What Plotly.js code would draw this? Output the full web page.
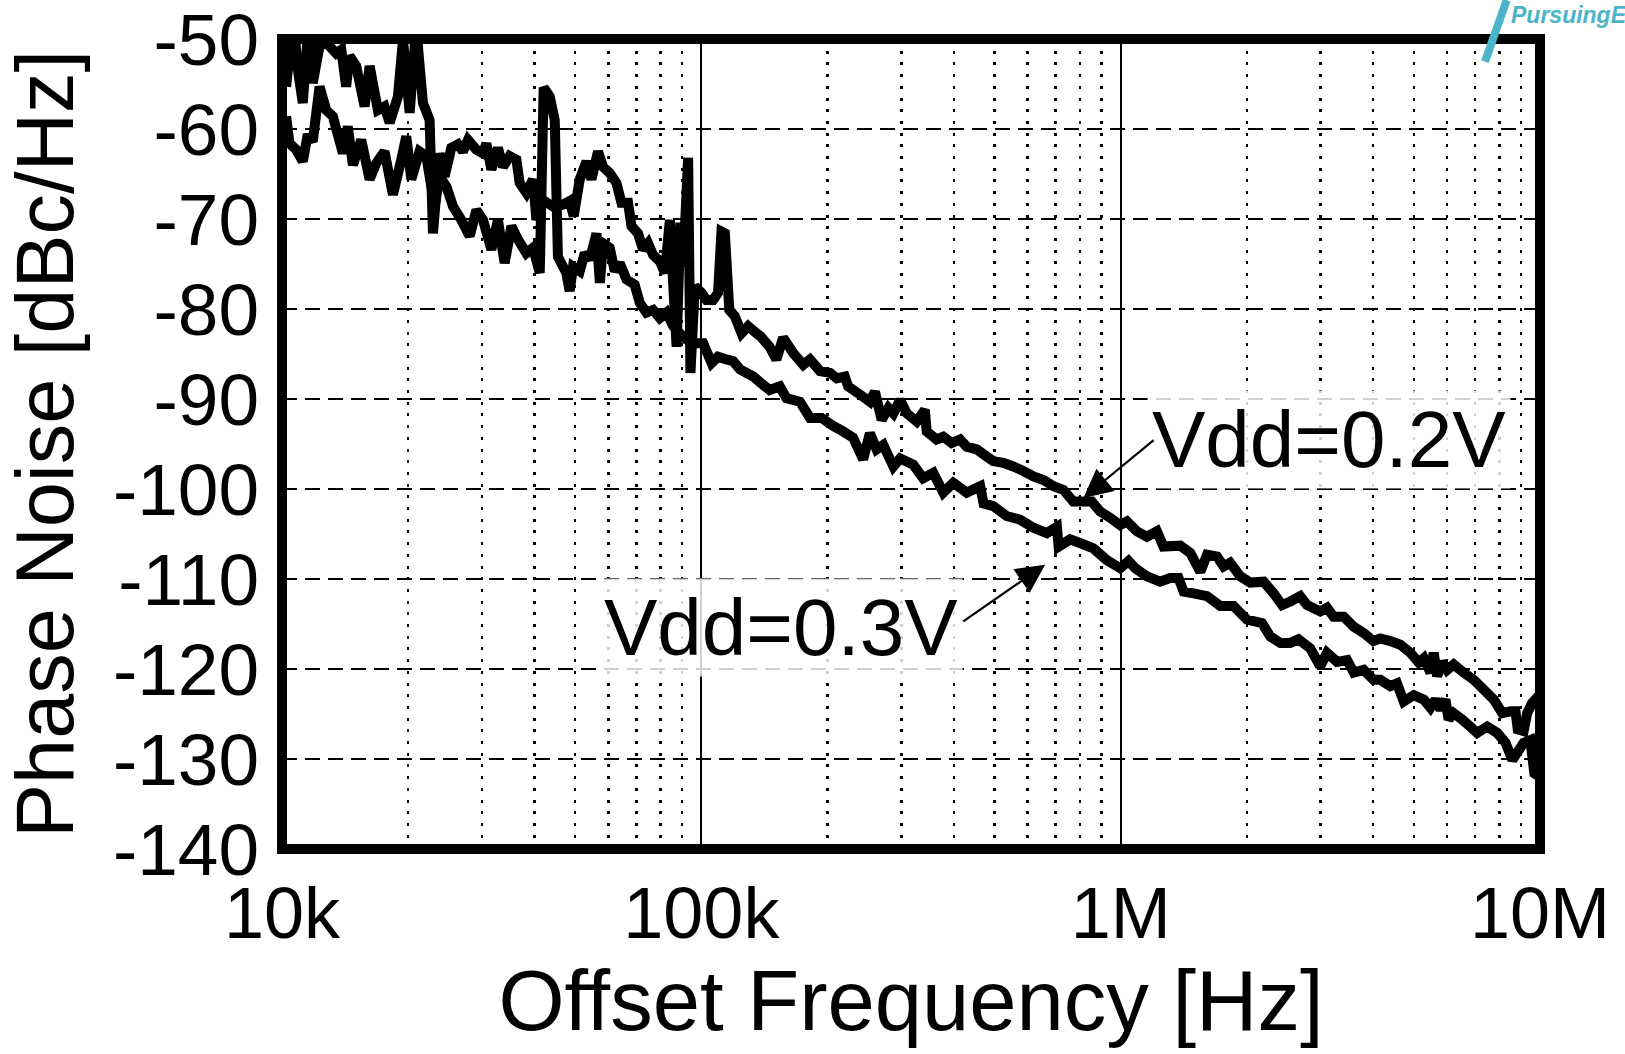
<!DOCTYPE html>
<html>
<head>
<meta charset="utf-8">
<script src="https://cdn.plot.ly/plotly-3.0.1.min.js"></script>
<style>
html,body{margin:0;padding:0;background:#ffffff;}
#chart{width:1625px;height:1054px;}
</style>
</head>
<body>
<div id="chart"></div>
<script>
// Offset frequency in kHz, phase noise in dBc/Hz
const freq02 = [10.23,10.42,10.65,10.91,11.21,11.59,11.84,12.29,12.75,13.47,13.85,14.22,14.49,15.03,15.74,16.18,16.93,17.56,18.06,18.90,19.43,20.16,20.89,21.68,22.49,22.91,23.76,24.42,25.34,26.28,27.01,27.77,29.08,30.15,30.72,31.57,32.73,33.65,34.91,36.22,36.88,38.26,39.68,40.43,41.93,44.29,46.77,48.53,49.62,51.29,53.21,54.70,56.71,58.30,60.47,62.74,64.49,66.88,68.14,70.63,72.61,74.64,76.74,79.62,81.85,84.14,85.90,87.30,89.13,90.49,93.01,94.19,96.49,100.1,102.9,106.7,109.6,111.7,113.8,116.6,120.2,124.7,129.3,135.4,138.5,145.5,151.0,156.7,165.6,175.0,181.6,191.9,202.7,210.4,219.8,223.9,238.8,252.3,259.4,269.2,279.3,287.1,297.9,309.0,326.3,341.2,344.7,363.9,377.6,395.4,414.0,429.5,453.9,479.7,496.6,524.8,554.6,586.1,619.4,654.6,691.8,730.5,770.9,799.8,853.1,893.3,944.1,997,1035,1093,1155,1220,1265,1387,1466,1549,1607,1697,1760,1824,1928,2037,2193,2317,2427,2539,2679,2782,2992,3105,3221,3404,3597,3797,4009,4159,4395,4645,4909,5140,5284,5479,5579,5685,5843,6005,6223,6577,6950,7345,7762,8128,8503,8740,8851,9141,9322,9572,9750,10000];
const pn02 = [-55.3,-51.6,-47.9,-53.4,-57.1,-47.9,-54.9,-50.8,-50.4,-51.6,-51.2,-55.3,-51.9,-53.0,-57.5,-53.0,-57.9,-57.5,-59.3,-56.4,-50.1,-58.2,-48.6,-57.1,-59.0,-71.6,-62.7,-65.3,-62.1,-61.7,-62.5,-61.2,-62.3,-62.7,-61.6,-64.5,-62.1,-64.2,-63.0,-63.4,-66.0,-67.1,-65.6,-70.1,-67.9,-68.6,-68.4,-68.0,-69.7,-65.6,-63.6,-65.6,-62.5,-64.2,-64.9,-66.0,-68.2,-68.2,-70.8,-71.6,-73.4,-72.7,-74.0,-74.7,-76.0,-70.1,-78.2,-84.2,-70.4,-75.3,-63.2,-87.1,-77.5,-78.2,-79.0,-79.0,-78.2,-71.4,-71.6,-80.1,-80.8,-82.7,-81.9,-82.7,-83.05,-84.2,-85.6,-83.2,-84.9,-86.2,-85.6,-86.9,-87.1,-87.7,-87.5,-88.6,-89.5,-90.3,-89.2,-92.3,-91.0,-91.6,-90.1,-91.6,-92.5,-91.2,-93.6,-94.5,-94.2,-94.9,-94.5,-95.3,-95.6,-96.4,-96.9,-97.1,-97.5,-98.0,-98.6,-99.0,-99.7,-100.1,-101.4,-101.4,-101.4,-102.5,-103.2,-104.0,-103.6,-104.7,-105.3,-104.7,-106.4,-106.3,-107.1,-109.2,-107.3,-107.5,-108.6,-108.2,-109.7,-110.4,-110.3,-111.6,-112.9,-112.5,-111.9,-112.9,-113.6,-113.2,-114.2,-114.2,-115.3,-116.0,-116.9,-116.6,-116.9,-117.3,-118.2,-119.3,-118.8,-120.4,-118.2,-120.8,-119.2,-120.1,-119.5,-120.4,-121.2,-122.3,-123.4,-124.9,-124.7,-124.7,-126.7,-126.9,-124.9,-123.8,-123.4,-124.0];
const freq03 = [10.23,10.42,10.81,11.21,11.52,11.84,12.29,12.75,13.22,13.97,14.35,14.76,15.45,16.18,16.78,17.56,18.39,19.25,19.79,20.34,21.28,22.08,23.12,23.76,24.66,25.57,26.77,28.03,29.08,30.15,31.57,32.73,33.96,35.24,36.55,38.26,39.68,41.18,42.07,43.49,44.71,45.50,47.64,48.53,49.43,51.29,52.72,54.20,56.23,57.28,58.30,60.47,62.17,63.90,66.30,69.34,71.29,73.96,76.74,79.62,82.60,85.70,88.87,92.21,96.49,101.0,105.8,109.6,114.8,119.1,123.6,133.0,138.5,145.5,153.8,159.6,171.8,181.6,193.6,206.3,217.8,230.1,243.2,252.3,261.8,271.6,287.1,297.9,320.3,338.1,357.3,377.6,399.0,429.5,462.4,471.0,496.6,534.6,575.4,619.4,666.8,704.7,711.2,757.7,799.8,861.0,926.8,997.7,1044,1083,1155,1242,1312,1374,1413,1493,1606,1728,1858,2000,2173,2275,2404,2539,2655,2831,2992,3105,3281,3467,3597,3797,4009,4159,4395,4560,4732,5000,5284,5479,5636,5788,5950,6053,6223,6516,6823,7079,7482,7907,8279,8590,8821,9141,9484,9694,10000];
const pn03 = [-58.6,-61.6,-62.3,-63.6,-60.6,-61.4,-55.3,-57.9,-58.6,-62.7,-59.7,-64.0,-61.2,-65.6,-63.8,-62.5,-67.3,-63.4,-60.8,-65.6,-62.5,-63.0,-68.6,-65.3,-66.4,-68.6,-70.1,-71.9,-69.0,-70.1,-73.4,-70.1,-74.9,-70.8,-72.3,-73.8,-73.2,-76.0,-55.4,-56.4,-59.0,-74.2,-76.0,-78.0,-75.3,-75.8,-73.8,-74.5,-71.6,-77.1,-72.7,-73.2,-75.8,-74.9,-76.7,-77.3,-79.3,-80.4,-80.1,-81.0,-80.4,-81.9,-82.7,-83.4,-83.8,-83.8,-86.0,-85.3,-85.6,-85.8,-86.7,-87.5,-88.2,-89.0,-88.6,-89.9,-90.3,-92.1,-92.1,-93.0,-93.6,-94.3,-96.7,-93.8,-95.6,-95.1,-97.5,-96.6,-97.3,-98.8,-98.2,-100.4,-99.3,-100.4,-99.7,-101.6,-101.9,-103.0,-103.4,-104.3,-104.9,-104.2,-106.4,-105.6,-106.0,-106.6,-107.9,-108.8,-108.0,-108.8,-109.7,-110.3,-109.9,-109.9,-111.4,-111.6,-111.9,-113.0,-113.0,-114.5,-114.9,-116.4,-117.1,-117.1,-116.7,-117.7,-119.7,-118.2,-119.2,-119.0,-120.4,-120.1,-121.2,-121.2,-121.9,-121.6,-123.6,-122.9,-123.4,-124.3,-123.4,-124.5,-123.4,-125.6,-124.9,-125.6,-126.4,-127.1,-126.4,-127.1,-128.2,-130.1,-129.3,-128.2,-127.9,-131.6,-132.0];

const seriesNames = ['Vdd=0.2V', 'Vdd=0.3V'];
const xTickVals = [10, 100, 1000, 10000];
const xTickText = ['10k', '100k', '1M', '10M'];
const yTickVals = [-50, -60, -70, -80, -90, -100, -110, -120, -130, -140];
const yTickText = ['-50', '-60', '-70', '-80', '-90', '-100', '-110', '-120', '-130', '-140'];
const xTitle = 'Offset Frequency [Hz]';
const yTitle = 'Phase Noise [dBc/Hz]';
const watermark = 'PursuingE';

const minorVals = [];
[10, 100, 1000].forEach(function (d) { for (let k = 2; k <= 9; k++) minorVals.push(d * k); });

const FONT = 'Liberation Sans, Arial, Helvetica, sans-serif';

const traces = [
  {x: freq02, y: pn02, type: 'scatter', mode: 'lines', name: seriesNames[0],
   line: {color: '#000000', width: 10, simplify: false}, hoverinfo: 'skip'},
  {x: freq03, y: pn03, type: 'scatter', mode: 'lines', name: seriesNames[1],
   line: {color: '#000000', width: 10, simplify: false}, hoverinfo: 'skip'}
];

const layout = {
  width: 1625,
  height: 1054,
  paper_bgcolor: '#ffffff',
  plot_bgcolor: '#ffffff',
  showlegend: false,
  margin: {l: 282, r: 85, t: 39, b: 205, pad: 0},
  font: {family: FONT, color: '#000000'},
  xaxis: {
    type: 'log',
    range: [1, 4],
    tickmode: 'array',
    tickvals: xTickVals,
    ticktext: xTickText,
    ticks: '',
    ticklabelstandoff: 16,
    ticklabeloverflow: 'allow',
    tickfont: {family: FONT, size: 72, color: '#000000'},
    showgrid: true,
    gridcolor: '#000000',
    gridwidth: 2,
    zeroline: false,
    showline: false,
    automargin: false,
    minor: {tickmode: 'array', tickvals: minorVals, showgrid: true, gridcolor: '#000000', gridwidth: 2.5, griddash: '3px,8.7px', ticks: ''},
    title: {text: xTitle, font: {family: FONT, size: 85, color: '#000000'}, standoff: 8}
  },
  yaxis: {
    range: [-140, -50],
    tickmode: 'array',
    tickvals: yTickVals,
    ticktext: yTickText,
    ticks: '',
    ticklabelstandoff: 22,
    ticklabeloverflow: 'allow',
    tickfont: {family: FONT, size: 73, color: '#000000'},
    showgrid: true,
    gridcolor: '#000000',
    gridwidth: 2.5,
    griddash: '15px,8px',
    zeroline: false,
    showline: false,
    automargin: false,
    title: {text: yTitle, font: {family: FONT, size: 81, color: '#000000'}, standoff: 12}
  },
  shapes: [
    {type: 'rect', xref: 'paper', yref: 'paper', x0: 0, x1: 1, y0: 0, y1: 1,
     line: {color: '#000000', width: 10}, fillcolor: 'rgba(0,0,0,0)', layer: 'above'},
    {type: 'line', xref: 'paper', yref: 'paper', x0: 0.9735, y0: 1.048, x1: 0.9563, y1: 0.972,
     line: {color: '#4BB4C8', width: 8}}
  ],
  annotations: [
    {xref: 'x', yref: 'y', x: 3.4976, y: -94.5, text: seriesNames[0], showarrow: false,
     xanchor: 'center', yanchor: 'middle', font: {family: FONT, size: 80, color: '#000000'},
     bgcolor: 'rgba(255,255,255,0.82)', borderpad: 4},
    {xref: 'x', yref: 'y', x: 2.1897, y: -115.35, text: seriesNames[1], showarrow: false,
     xanchor: 'center', yanchor: 'middle', font: {family: FONT, size: 80, color: '#000000'},
     bgcolor: 'rgba(255,255,255,0.82)', borderpad: 4},
    {xref: 'x', yref: 'y', x: 2.9112, y: -101.0, axref: 'x', ayref: 'y', ax: 3.0823, ay: -94.44,
     text: '', showarrow: true, arrowhead: 2, arrowsize: 2.6, arrowwidth: 2.2, arrowcolor: '#000000', standoff: 0},
    {xref: 'x', yref: 'y', x: 2.8198, y: -108.41, axref: 'x', ayref: 'y', ax: 2.621, ay: -114.82,
     text: '', showarrow: true, arrowhead: 2, arrowsize: 2.6, arrowwidth: 2.2, arrowcolor: '#000000', standoff: 0},
    {xref: 'paper', yref: 'paper', x: 0.9755, y: 1.0296, xanchor: 'left', yanchor: 'middle',
     text: '<b><i>' + watermark + '</i></b>', showarrow: false,
     font: {family: FONT, size: 23, color: '#4BB4C8'}}
  ]
};

Plotly.newPlot('chart', traces, layout, {displayModeBar: false, staticPlot: true});
</script>
</body>
</html>
